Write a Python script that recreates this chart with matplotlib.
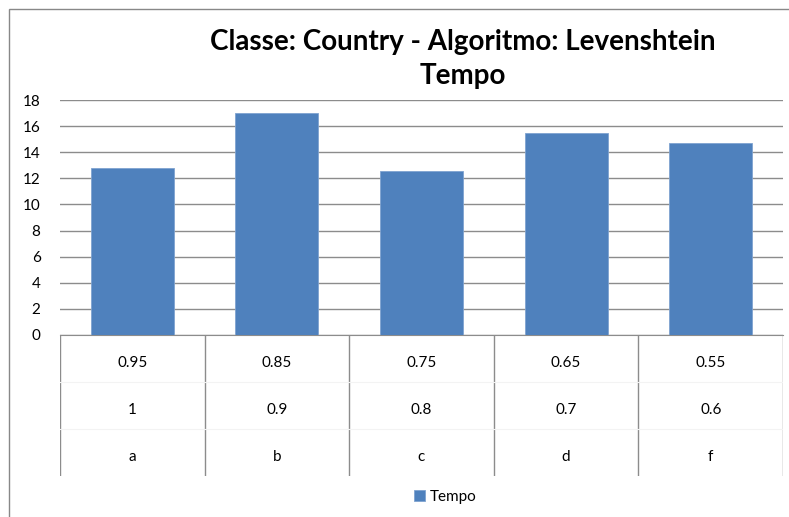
import matplotlib
matplotlib.use("Agg")
import matplotlib.pyplot as plt
from matplotlib.patches import Rectangle

plt.rcParams['font.family'] = ['Lato', 'DejaVu Sans']

# data
row1 = ['0.95', '0.85', '0.75', '0.65', '0.55']
row2 = ['1', '0.9', '0.8', '0.7', '0.6']
row3 = ['a', 'b', 'c', 'd', 'f']
tempo = [12.8, 17.0, 12.6, 15.45, 14.7]

W, H = 789, 517
fig = plt.figure(figsize=(W / 100, H / 100), dpi=100)

# outer chart frame
fig.patches.append(Rectangle((9 / W, -0.1), 2, (H - 9) / H + 0.1, transform=fig.transFigure,
                             fill=False, edgecolor='#888888', lw=1))

def px_axes(x0, y0, x1, y1):
    return fig.add_axes([x0 / W, 1 - y1 / H, (x1 - x0) / W, (y1 - y0) / H])

ax = px_axes(60, 100, 783, 335)
x = range(len(tempo))
ax.bar(x, tempo, width=0.575, color='#4F81BD', edgecolor='#7FA3D0', lw=0.6, zorder=3, label='Tempo')
ax.set_xlim(-0.5, len(tempo) - 0.5)
ax.set_ylim(0, 18)
ax.set_yticks(range(0, 19, 2))
ax.yaxis.grid(True, color='#8c8c8c', lw=1)
ax.set_axisbelow(True)
ax.set_xticks([])
for s in ['left', 'right', 'top']:
    ax.spines[s].set_visible(False)
ax.spines['bottom'].set_color('#8c8c8c')
ax.tick_params(axis='y', length=0, pad=14, labelsize=11)
for t in ax.get_yticklabels():
    t.set_horizontalalignment('right')

# category table under the axis
tb = px_axes(60, 335, 783, 476)
tb.set_xlim(-0.5, len(tempo) - 0.5)
tb.set_ylim(0, 3)
tb.axis('off')
for i in range(len(tempo) + 1):
    tb.axvline(i - 0.5, color='#8c8c8c', lw=1)
for r in (1, 2):
    tb.axhline(r, color='#f3f3f3', lw=0.8)
for i in range(len(tempo)):
    tb.text(i, 2.4, row1[i], ha='center', va='center', fontsize=11)
    tb.text(i, 1.4, row2[i], ha='center', va='center', fontsize=11)
    tb.text(i, 0.4, row3[i], ha='center', va='center', fontsize=11)

fig.text(463 / W, 1 - 59 / H, 'Classe: Country - Algoritmo: Levenshtein\nTempo',
         ha='center', va='center', fontsize=20, fontweight='bold', linespacing=1.4)

fig.legend(loc='center', bbox_to_anchor=(445 / W, 1 - 497 / H), frameon=False,
           fontsize=11, handlelength=0.7, handleheight=0.7, handletextpad=0.3)

fig.savefig('out.png', dpi=100)
